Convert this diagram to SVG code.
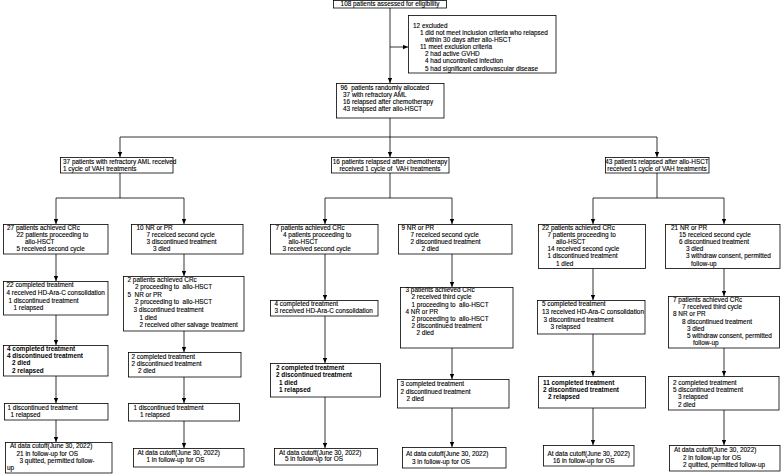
<svg xmlns="http://www.w3.org/2000/svg" width="783" height="474" viewBox="0 0 783 474">
<style>
.b{fill:#fff;stroke:#000;stroke-width:0.8}
.t{font-family:"Liberation Sans",Arial,sans-serif;font-size:6.4px;fill:#000;stroke:#000;stroke-width:0.12}
.k{font-weight:bold;stroke-width:0}
.m{text-anchor:middle}
.c{stroke:#000;stroke-width:0.8;fill:none}
</style>
<defs>
<marker id="ar" markerUnits="userSpaceOnUse" markerWidth="5" markerHeight="5" viewBox="0 0 5 5" refX="5" refY="2.5" orient="auto">
<path d="M0,0.3 L5,2.5 L0,4.7 z" fill="#000"/>
</marker>
</defs>
<rect width="783" height="474" fill="#fff"/>
<g id="connectors">
<path class="c" d="M390,8 V83" marker-end="url(#ar)"/>
<path class="c" d="M390,47 H408" marker-end="url(#ar)"/>
<path class="c" d="M390,118 V157" marker-end="url(#ar)"/>
<path class="c" d="M120,137 H657"/>
<path class="c" d="M120,137 V157" marker-end="url(#ar)"/>
<path class="c" d="M657,137 V157" marker-end="url(#ar)"/>
<path class="c" d="M120,173 V198 M56,198 H184 M390,173 V198 M325,198 H452 M657,173 V198 M593,198 H724"/>
<path class="c" d="M56,198 V224" marker-end="url(#ar)"/>
<path class="c" d="M184,198 V224" marker-end="url(#ar)"/>
<path class="c" d="M325,198 V224" marker-end="url(#ar)"/>
<path class="c" d="M452,198 V224" marker-end="url(#ar)"/>
<path class="c" d="M593,198 V224" marker-end="url(#ar)"/>
<path class="c" d="M724,198 V224" marker-end="url(#ar)"/>
<path class="c" d="M56,254 V281" marker-end="url(#ar)"/>
<path class="c" d="M56,315 V345" marker-end="url(#ar)"/>
<path class="c" d="M56,376 V403" marker-end="url(#ar)"/>
<path class="c" d="M56,420 V442" marker-end="url(#ar)"/>
<path class="c" d="M184,254 V276" marker-end="url(#ar)"/>
<path class="c" d="M184,331 V352" marker-end="url(#ar)"/>
<path class="c" d="M184,377 V403" marker-end="url(#ar)"/>
<path class="c" d="M184,421 V448" marker-end="url(#ar)"/>
<path class="c" d="M325,254 V300" marker-end="url(#ar)"/>
<path class="c" d="M325,316 V363" marker-end="url(#ar)"/>
<path class="c" d="M325,397 V448" marker-end="url(#ar)"/>
<path class="c" d="M452,254 V287" marker-end="url(#ar)"/>
<path class="c" d="M452,348 V379" marker-end="url(#ar)"/>
<path class="c" d="M452,408 V447" marker-end="url(#ar)"/>
<path class="c" d="M593,268.5 V300" marker-end="url(#ar)"/>
<path class="c" d="M593,334 V376" marker-end="url(#ar)"/>
<path class="c" d="M593,408 V445" marker-end="url(#ar)"/>
<path class="c" d="M724,268.5 V296" marker-end="url(#ar)"/>
<path class="c" d="M724,348 V376" marker-end="url(#ar)"/>
<path class="c" d="M724,410 V445" marker-end="url(#ar)"/>
</g>
<g id="assessed">
<rect class="b" x="333.5" y="0.5" width="113" height="7.5"/>
<text class="t m" x="390" y="6.2">108 patients assessed for eligibility</text>
</g>
<g id="excluded">
<rect class="b" x="408.5" y="15.5" width="147.5" height="57.5"/>
<text class="t"><tspan x="413" y="28.2">12 excluded</tspan><tspan x="420" y="35.2">1 did not meet inclusion criteria who relapsed</tspan><tspan x="425" y="42.3">within 30 days after allo-HSCT</tspan><tspan x="420" y="49.3">11 meet exclusion criteria</tspan><tspan x="425" y="56.4">2 had active GVHD</tspan><tspan x="425" y="63.4">4 had uncontrolled infection</tspan><tspan x="425" y="70.5">5 had significant cardiovascular disease</tspan></text>
</g>
<g id="allocated">
<rect class="b" x="336.5" y="83.5" width="107.5" height="34.5"/>
<text class="t" xml:space="preserve"><tspan x="340.5" y="90.2">96  patients randomly allocated</tspan><tspan x="343" y="97.2">37 with refractory AML</tspan><tspan x="343" y="103.9">16 relapsed after chemotherapy</tspan><tspan x="343" y="110.9">43 relapsed after allo-HSCT</tspan></text>
</g>
<g id="refractory">
<rect class="b" x="60.5" y="157.5" width="112.5" height="15.5"/>
<text class="t"><tspan x="63" y="164.4">37 patients with refractory AML received</tspan><tspan x="63" y="170.6">1 cycle of VAH treatments</tspan></text>
</g>
<g id="chemo">
<rect class="b" x="331.5" y="157.5" width="117.5" height="15.5"/>
<text class="t m" xml:space="preserve"><tspan x="390" y="164.2">16 patients relapsed after chemotherapy</tspan><tspan x="390" y="170.6">received 1 cycle of  VAH treatments</tspan></text>
</g>
<g id="hsct">
<rect class="b" x="605.5" y="157.5" width="103.5" height="15.5"/>
<text class="t m"><tspan x="657" y="164.2">43 patients relapsed after allo-HSCT</tspan><tspan x="657" y="170.6">received 1 cycle of VAH treatments</tspan></text>
</g>
<g id="a1r1">
<rect class="b" x="3.5" y="224.5" width="104.5" height="29.5"/>
<text class="t"><tspan x="7" y="229.5">27 patients achieved CRc</tspan><tspan x="16.5" y="236.7">22 patients proceeding to</tspan><tspan x="25" y="243.9">allo-HSCT</tspan><tspan x="16.5" y="251.1">5 received second cycle</tspan></text>
</g>
<g id="a2r1">
<rect class="b" x="131.5" y="224.5" width="111.5" height="29.5"/>
<text class="t"><tspan x="136.5" y="229.5">10 NR or PR</tspan><tspan x="146.5" y="236.7">7 receiced second cycle</tspan><tspan x="146.5" y="243.9">3 discontinued treatment</tspan><tspan x="153" y="251.1">3 died</tspan></text>
</g>
<g id="b1r1">
<rect class="b" x="270.5" y="224.5" width="107.5" height="29.5"/>
<text class="t"><tspan x="275.5" y="229.5">7 patients achieved CRc</tspan><tspan x="283" y="236.7">4 patients proceeding to</tspan><tspan x="288.5" y="243.9">allo-HSCT</tspan><tspan x="282.5" y="251.1">3 received second cycle</tspan></text>
</g>
<g id="b2r1">
<rect class="b" x="398.5" y="224.5" width="113.5" height="29.5"/>
<text class="t"><tspan x="401.5" y="229.5">9 NR or PR</tspan><tspan x="410.5" y="236.7">7 receiced second cycle</tspan><tspan x="410.5" y="243.9">2 discontinued treatment</tspan><tspan x="421.5" y="251.1">2 died</tspan></text>
</g>
<g id="c1r1">
<rect class="b" x="538.5" y="224.5" width="107" height="44"/>
<text class="t"><tspan x="542" y="229.5">22 patients achieved CRc</tspan><tspan x="547.5" y="236.7">7 patients proceeding to</tspan><tspan x="556" y="243.9">allo-HSCT</tspan><tspan x="547.5" y="251.1">14 received second cycle</tspan><tspan x="547.5" y="258.3">1 discontinued treatment</tspan><tspan x="556" y="265.5">1 died</tspan></text>
</g>
<g id="c2r1">
<rect class="b" x="665.5" y="224.5" width="114.5" height="44"/>
<text class="t"><tspan x="671" y="229.5">21 NR or PR</tspan><tspan x="679" y="236.7">15 receiced second cycle</tspan><tspan x="679" y="243.9">6 discontinued treatment</tspan><tspan x="686" y="251.1">3 died</tspan><tspan x="686" y="258.3">3 withdraw consent, permitted</tspan><tspan x="691" y="265.5">follow-up</tspan></text>
</g>
<g id="a1r2">
<rect class="b" x="3.5" y="281.5" width="104.5" height="33.5"/>
<text class="t"><tspan x="6.5" y="287.2">22 completed treatment</tspan><tspan x="6.5" y="294.9">4 received HD-Ara-C consolidation</tspan><tspan x="8.5" y="302.6">1 discontinued treatment</tspan><tspan x="13.5" y="310.3">1 relapsed</tspan></text>
</g>
<g id="a2r2">
<rect class="b" x="123.5" y="276.5" width="120.5" height="54.5"/>
<text class="t" xml:space="preserve"><tspan x="127.5" y="281.5">2 patients achieved CRc</tspan><tspan x="135" y="289.1">2 proceeding to  allo-HSCT</tspan><tspan x="127.5" y="296.7">5  NR or PR</tspan><tspan x="135" y="304.3">2 proceeding to  allo-HSCT</tspan><tspan x="133.5" y="311.9">3 discontinued treatment</tspan><tspan x="139.5" y="319.5">1 died</tspan><tspan x="139.5" y="327.1">2 received other salvage treatment</tspan></text>
</g>
<g id="b1r2">
<rect class="b" x="270.5" y="300.5" width="107.5" height="15.5"/>
<text class="t"><tspan x="274.5" y="305.5">4 completed treatment</tspan><tspan x="274.5" y="313.2">3 received HD-Ara-C consolidation</tspan></text>
</g>
<g id="b2r2">
<rect class="b" x="400.5" y="287.5" width="112.5" height="60.5"/>
<text class="t" xml:space="preserve"><tspan x="405.5" y="292.2">3 patients achieved CRc</tspan><tspan x="411.5" y="299.4">2 received third cycle</tspan><tspan x="411.5" y="306.6">1 proceeding to  allo-HSCT</tspan><tspan x="405.5" y="313.8">4 NR or PR</tspan><tspan x="411.5" y="321">2 proceeding to  allo-HSCT</tspan><tspan x="411.5" y="328.2">2 discontinued treatment</tspan><tspan x="416.5" y="335.4">2 died</tspan></text>
</g>
<g id="c1r2">
<rect class="b" x="537.5" y="300.5" width="107.5" height="33.5"/>
<text class="t"><tspan x="542" y="306.2">5 completed treatment</tspan><tspan x="542" y="313.9">13 received HD-Ara-C consolidation</tspan><tspan x="543.5" y="321.5">3 discontinued treatment</tspan><tspan x="550.5" y="329.2">3 relapsed</tspan></text>
</g>
<g id="c2r2">
<rect class="b" x="668.5" y="296.5" width="111" height="51.5"/>
<text class="t"><tspan x="673" y="302.2">7 patients achieved CRc</tspan><tspan x="682" y="309.3">7 received third cycle</tspan><tspan x="673" y="316.4">8 NR or PR</tspan><tspan x="682" y="323.5">8 discontinued treatment</tspan><tspan x="687" y="330.6">3 died</tspan><tspan x="687" y="337.7">5 withdraw consent, permitted</tspan><tspan x="693" y="344.8">follow-up</tspan></text>
</g>
<g id="a1r3">
<rect class="b" x="3.5" y="345.5" width="104.5" height="30.5"/>
<text class="t k"><tspan x="7" y="350.5">4 completed treatment</tspan><tspan x="7" y="357.9">4 discontinued treatment</tspan><tspan x="12" y="365.3">2 died</tspan><tspan x="12" y="372.7">2 relapsed</tspan></text>
</g>
<g id="a2r3">
<rect class="b" x="128.5" y="352.5" width="112.5" height="24.5"/>
<text class="t"><tspan x="131.5" y="358.9">2 completed treatment</tspan><tspan x="131.5" y="366">2 discontinued treatment</tspan><tspan x="138" y="373">2 died</tspan></text>
</g>
<g id="b1r3">
<rect class="b" x="270.5" y="363.5" width="110" height="33.5"/>
<text class="t k"><tspan x="276" y="369.5">2 completed treatment</tspan><tspan x="276" y="377.1">2 discontinued treatment</tspan><tspan x="279" y="384.7">1 died</tspan><tspan x="279" y="392.3">1 relapsed</tspan></text>
</g>
<g id="b2r3">
<rect class="b" x="397.5" y="379.5" width="111.5" height="28.5"/>
<text class="t"><tspan x="400.5" y="386.2">3 completed treatment</tspan><tspan x="400.5" y="393.8">2 discontinued treatment</tspan><tspan x="406.5" y="401.2">2 died</tspan></text>
</g>
<g id="c1r3">
<rect class="b" x="538.5" y="376.5" width="107" height="31.5"/>
<text class="t k"><tspan x="543" y="384.9">11 completed treatment</tspan><tspan x="543" y="392.1">2 discontinued treatment</tspan><tspan x="548" y="399.3">2 relapsed</tspan></text>
</g>
<g id="c2r3">
<rect class="b" x="668.5" y="376.5" width="110.5" height="33.5"/>
<text class="t"><tspan x="673" y="384.9">2 completed treatment</tspan><tspan x="673" y="392.1">5 discontinued treatment</tspan><tspan x="678" y="399.3">3 relapsed</tspan><tspan x="678" y="406.5">2 died</tspan></text>
</g>
<g id="a1r4">
<rect class="b" x="4.5" y="403.5" width="103.5" height="16.5"/>
<text class="t"><tspan x="7.5" y="409.9">1 discontinued treatment</tspan><tspan x="10.5" y="417.2">1 relapsed</tspan></text>
</g>
<g id="a2r4">
<rect class="b" x="128.5" y="403.5" width="111" height="17.5"/>
<text class="t"><tspan x="133.5" y="409.9">1 discontinued treatment</tspan><tspan x="140" y="417.2">1 relapsed</tspan></text>
</g>
<g id="a1f">
<rect class="b" x="5.5" y="442.5" width="106.5" height="30.5"/>
<text class="t"><tspan x="10" y="448.2">At data cutoff(June 30, 2022)</tspan><tspan x="16.5" y="455.9">21 in follow-up for OS</tspan><tspan x="19.5" y="462.9">3 quitted, permitted follow-</tspan><tspan x="7" y="469.9">up</tspan></text>
</g>
<g id="a2f">
<rect class="b" x="133.5" y="448.5" width="110.5" height="18.5"/>
<text class="t"><tspan x="137.5" y="454.5">At data cutoff(June 30, 2022)</tspan><tspan x="146.5" y="461.5">1 in follow-up for OS</tspan></text>
</g>
<g id="b1f">
<rect class="b" x="274.5" y="448.5" width="103" height="16.5"/>
<text class="t"><tspan x="279" y="454.5">At data cutoff(June 30, 2022)</tspan><tspan x="285" y="461.2">5 in follow-up for OS</tspan></text>
</g>
<g id="b2f">
<rect class="b" x="402.5" y="447.5" width="103.5" height="20.5"/>
<text class="t"><tspan x="406" y="456.2">At data cutoff(June 30, 2022)</tspan><tspan x="412" y="463.9">3 in follow-up for OS</tspan></text>
</g>
<g id="c1f">
<rect class="b" x="543.5" y="445.5" width="90.5" height="20.5"/>
<text class="t"><tspan x="547.5" y="456.2">At data cutoff(June 30, 2022)</tspan><tspan x="553" y="463.2">16 in follow-up for OS</tspan></text>
</g>
<g id="c2f">
<rect class="b" x="669.5" y="445.5" width="110.5" height="25.5"/>
<text class="t"><tspan x="674" y="452.2">At data cutoff(June 30, 2022)</tspan><tspan x="683" y="459.5">2 in follow-up for OS</tspan><tspan x="683" y="466.5">2 quitted, permitted follow-up</tspan></text>
</g>
</svg>
